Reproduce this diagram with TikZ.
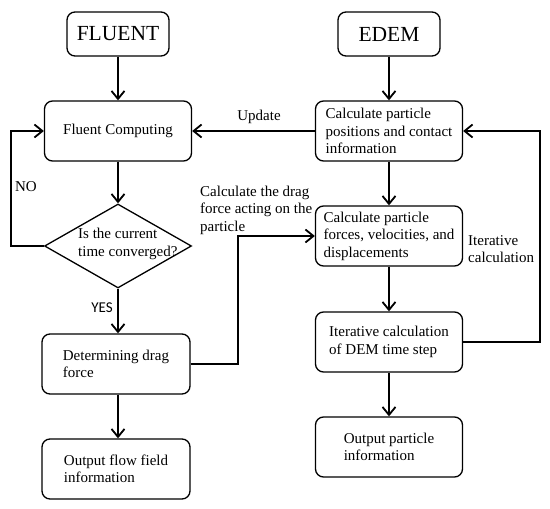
\documentclass[tikz,border=0pt]{standalone}
\usepackage{fontspec}
\setmainfont{Liberation Serif}
\newfontfamily\yesfont{Carlito}
\usetikzlibrary{shapes,arrows.meta}
\tikzstyle{line} = [draw, line width=1.8pt, -{Straight Barb[length=8pt,width=13pt]}]

\begin{document}
\begin{tikzpicture}[box/.style={draw, line width=1.3pt, rounded corners=8pt, minimum width=147pt, minimum height=60pt, align=left, inner sep=0pt},
		title/.style={box, minimum width=102pt, minimum height=44pt, font=\fontsize{21.5}{26}\selectfont},
		x=1pt, y=-1pt, %Pixelkoordinaten
		font=\fontsize{15}{17.5}\selectfont]
	\useasboundingbox (0,0) rectangle (550,509);
	% linke Spalte
	\node[title] (fluent) at (118,34) {FLUENT};
	\node[box] (fcomp) at (118,131) {Fluent Computing};
	\node[draw, diamond, line width=1.3pt, minimum width=147pt, minimum height=84pt, inner sep=0pt] (conv) at (118,246) {};
	\node[align=left, anchor=west, inner sep=0pt] (convtxt) at (78,244) {Is the current\\time converged?};
	\node[box, minimum width=148pt] (drag) at (116,364) {Determining drag\\force};
	\node[box, minimum width=148pt] (outflow) at (116,469) {Output flow field\\information};
	% rechte Spalte
	\node[title] (edem) at (389,34) {EDEM};
	\node[box] (pos) at (389,131) {Calculate particle\\positions and contact\\information};
	\node[box] (forces) at (389,236) {Calculate particle\\forces, velocities, and\\displacements};
	\node[box] (iter) at (389,342) {Iterative calculation\\of DEM time step};
	\node[box] (outpart) at (389,447) {Output particle\\information};
	% Beschriftungen
	\node (nolbl) at (26,187) {NO};
	\node[font=\yesfont\fontsize{15}{17}\selectfont] (yeslbl) at (102,308) {YES};
	\node (updlbl) at (259,117) {Update};
	\node[align=left, anchor=west, inner sep=0pt] (draglbl) at (200,210) {Calculate the drag\\force acting on the\\particle};
	\node[align=left, anchor=west, inner sep=0pt] (iterlbl) at (468,249) {Iterative\\calculation};
	% Pfeile
	\coordinate (noc) at (11,246);
	\coordinate (dragc) at (238,364);
	\coordinate (iterc) at (540,342);
	\draw[line] (fluent) -- (fcomp);
	\draw[line] (fcomp) -- (conv);
	\draw[line] (conv.west) -- (noc) |- (fcomp.west);
	\draw[line] (conv.south) -- (conv.south |- drag.north);
	\draw[line] (drag.south -| conv.south) -- (outflow.north -| conv.south);
	\draw[line] (drag.east) -- (dragc) |- (forces.west);
	\draw[line] (pos.west) -- (fcomp.east);
	\draw[line] (edem) -- (pos);
	\draw[line] (pos) -- (forces);
	\draw[line] (forces) -- (iter);
	\draw[line] (iter) -- (outpart);
	\draw[line] (iter.east) -- (iterc) |- (pos.east);
\end{tikzpicture}
\end{document}
